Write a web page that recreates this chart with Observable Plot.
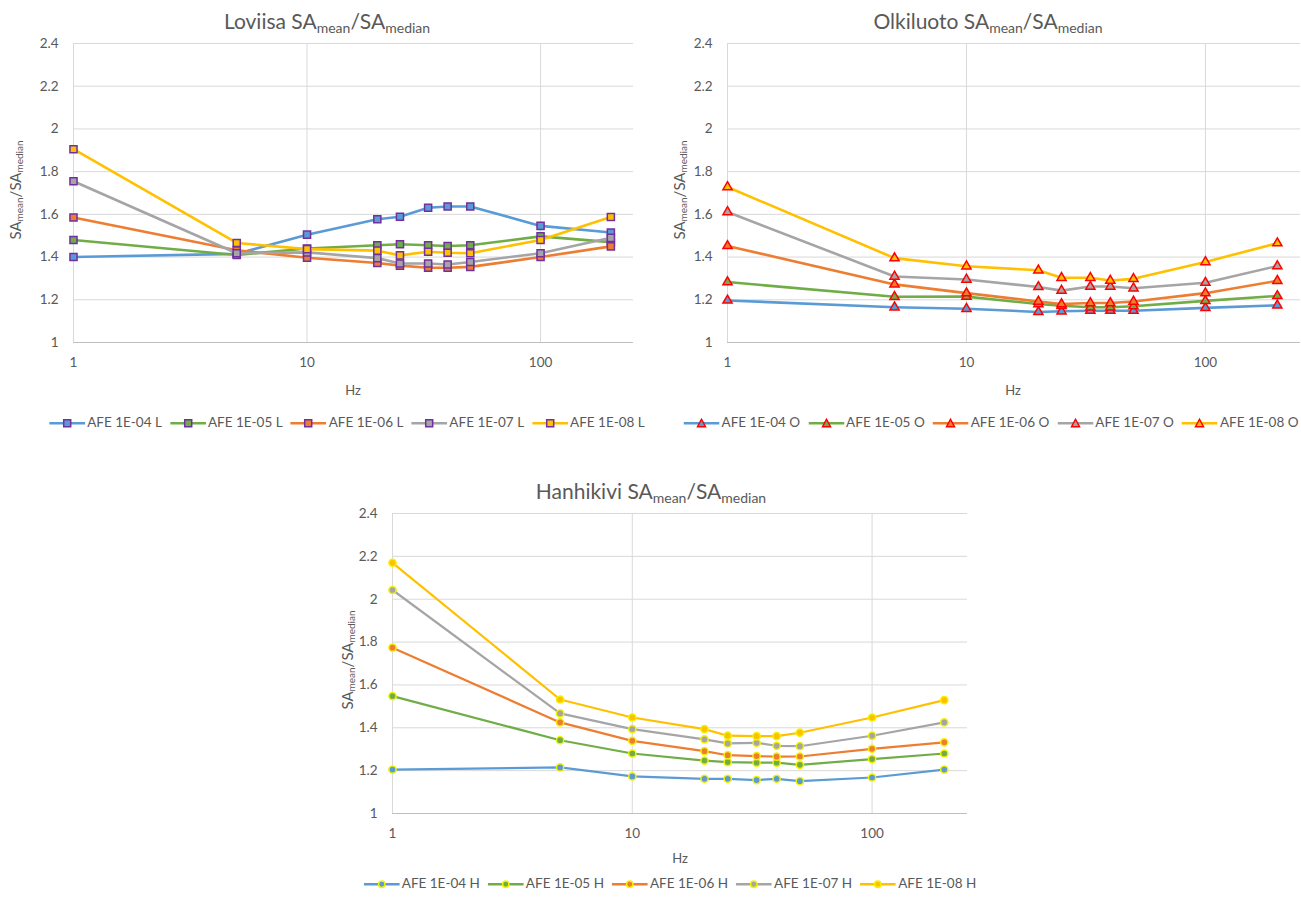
<!DOCTYPE html>
<html><head><meta charset="utf-8">
<script src="https://cdn.jsdelivr.net/npm/d3@7"></script>
<script src="https://cdn.jsdelivr.net/npm/@observablehq/plot@0.6"></script>
<style>
body{margin:0;background:#fff;}
#root{position:relative;width:1301px;height:904px;font-family:Lato,"Open Sans",sans-serif;color:#595959;overflow:hidden;background:#fff}
.title{position:absolute;font-size:21px;white-space:nowrap;transform:translateX(-50%);line-height:1}
.title sub{font-size:14px;vertical-align:baseline;position:relative;top:4px}
.ylab{position:absolute;font-size:15px;white-space:nowrap;transform:translate(-50%,-50%) rotate(-90deg);line-height:1}
.ylab sub{font-size:10px;vertical-align:baseline;position:relative;top:2px}
.xlab{position:absolute;font-size:13px;transform:translate(-50%,-50%);line-height:1}
.legend{position:absolute;display:flex;align-items:center;transform:translate(-50%,-50%);font-size:13.5px;white-space:nowrap;line-height:1}
.item{display:flex;align-items:center;margin:0 4px}
.item svg{margin-right:2px}
.plot{position:absolute}
</style></head>
<body><div id="root"></div>
<script>
// ---- data ----
const freqs = [1, 5, 10, 20, 25, 33, 40, 50, 100, 200];
const aeLevels = ["AFE 1E-04", "AFE 1E-05", "AFE 1E-06", "AFE 1E-07", "AFE 1E-08"];
const seriesColors = ["#5B9BD5", "#70AD47", "#ED7D31", "#A5A5A5", "#FFC000"];
const yTicks = [1, 1.2, 1.4, 1.6, 1.8, 2, 2.2, 2.4];
const xTicks = [1, 10, 100];

const loviisa_1e04 = [1.40, 1.415, 1.505, 1.577, 1.589, 1.631, 1.637, 1.637, 1.546, 1.515];
const loviisa_1e05 = [1.48, 1.41, 1.44, 1.455, 1.46, 1.455, 1.452, 1.455, 1.497, 1.47];
const loviisa_1e06 = [1.585, 1.432, 1.397, 1.372, 1.36, 1.35, 1.35, 1.354, 1.40, 1.45];
const loviisa_1e07 = [1.755, 1.418, 1.422, 1.395, 1.37, 1.37, 1.365, 1.377, 1.418, 1.49];
const loviisa_1e08 = [1.905, 1.466, 1.437, 1.43, 1.408, 1.425, 1.42, 1.418, 1.48, 1.588];

const olkiluoto_1e04 = [1.197, 1.165, 1.158, 1.143, 1.146, 1.149, 1.149, 1.149, 1.162, 1.174];
const olkiluoto_1e05 = [1.283, 1.214, 1.215, 1.18, 1.172, 1.165, 1.165, 1.17, 1.195, 1.218];
const olkiluoto_1e06 = [1.452, 1.272, 1.231, 1.192, 1.18, 1.185, 1.185, 1.192, 1.231, 1.289];
const olkiluoto_1e07 = [1.611, 1.309, 1.295, 1.26, 1.243, 1.262, 1.262, 1.254, 1.28, 1.358];
const olkiluoto_1e08 = [1.728, 1.395, 1.357, 1.338, 1.303, 1.303, 1.29, 1.298, 1.377, 1.465];

const hanhikivi_1e04 = [1.205, 1.215, 1.173, 1.162, 1.162, 1.156, 1.162, 1.151, 1.168, 1.205];
const hanhikivi_1e05 = [1.548, 1.342, 1.28, 1.247, 1.24, 1.237, 1.237, 1.227, 1.254, 1.28];
const hanhikivi_1e06 = [1.774, 1.425, 1.339, 1.291, 1.272, 1.268, 1.265, 1.266, 1.302, 1.332];
const hanhikivi_1e07 = [2.043, 1.467, 1.394, 1.346, 1.327, 1.33, 1.316, 1.314, 1.363, 1.425];
const hanhikivi_1e08 = [2.17, 1.532, 1.448, 1.394, 1.363, 1.361, 1.361, 1.377, 1.448, 1.529];

// ---- layout / drawing ----
const root = document.getElementById("root");
const SUBLBL = 'SA<sub>mean</sub>/SA<sub>median</sub>';

function addDiv(cls, html, left, top) {
  const d = document.createElement("div");
  d.className = cls; d.innerHTML = html;
  d.style.left = left + "px"; d.style.top = top + "px";
  root.appendChild(d); return d;
}

function markerSvg(symbol, color, border) {
  let m = "";
  if (symbol === "square") m = `<rect x="14.5" y="2.5" width="7" height="7" fill="${color}" stroke="${border}" stroke-width="1.5"/>`;
  else if (symbol === "triangle") m = `<path d="M18,2 L22,9.5 L14,9.5 Z" fill="${color}" stroke="${border}" stroke-width="1.5"/>`;
  else m = `<circle cx="18" cy="6" r="3.2" fill="${color}" stroke="${border}" stroke-width="1.5"/>`;
  return `<svg width="36" height="12"><line x1="0" y1="6" x2="36" y2="6" stroke="${color}" stroke-width="2.5"/>${m}</svg>`;
}

function panel(cfg) {
  const marks = [
    Plot.gridY(yTicks.slice(1), {stroke: "#d9d9d9", strokeOpacity: 1, strokeWidth: 1}),
    Plot.gridX(xTicks, {stroke: "#d9d9d9", strokeOpacity: 1, strokeWidth: 1}),
    Plot.ruleY([1], {stroke: "#bfbfbf", strokeWidth: 1}),
    Plot.axisX({ticks: xTicks, tickSize: 0, tickPadding: 15, tickFormat: d => String(d), label: null}),
    Plot.axisY({ticks: yTicks, tickSize: 0, tickPadding: 15, tickFormat: d => String(+d.toFixed(1)), label: null})
  ];
  cfg.series.forEach((vals, i) => {
    const rows = freqs.map((f, j) => ({f, v: vals[j]}));
    marks.push(Plot.line(rows, {x: "f", y: "v", stroke: seriesColors[i], strokeWidth: cfg.lw}));
    marks.push(Plot.dot(rows, {x: "f", y: "v", symbol: cfg.symbol, r: cfg.r, fill: seriesColors[i], stroke: cfg.border, strokeWidth: 1.5}));
  });
  const svg = Plot.plot({
    width: cfg.w, height: cfg.h,
    marginLeft: cfg.ml, marginRight: cfg.mr, marginTop: cfg.mt, marginBottom: cfg.mb,
    x: {type: "log", domain: [1, 250]},
    y: {domain: [1, 2.4]},
    style: {fontFamily: "Lato, 'Open Sans', sans-serif", fontSize: "13.5px", color: "#595959", background: "transparent", overflow: "visible"},
    marks
  });
  svg.classList.add("plot");
  svg.style.left = cfg.left + "px"; svg.style.top = cfg.top + "px";
  root.appendChild(svg);

  addDiv("title", `${cfg.name} ${SUBLBL}`, cfg.titleX, cfg.titleY);
  addDiv("ylab", SUBLBL, cfg.ylabX, cfg.ylabY);
  addDiv("xlab", "Hz", cfg.hzX, cfg.hzY);
  const lg = addDiv("legend", "", cfg.legX, cfg.legY);
  aeLevels.forEach((lvl, i) => {
    const it = document.createElement("div");
    it.className = "item";
    it.innerHTML = markerSvg(cfg.symbol, seriesColors[i], cfg.border) + `<span>${lvl} ${cfg.suffix}</span>`;
    lg.appendChild(it);
  });
}

panel({name: "Loviisa", suffix: "L", series: [loviisa_1e04, loviisa_1e05, loviisa_1e06, loviisa_1e07, loviisa_1e08],
  symbol: "square", r: 4, border: "#7030A0", lw: 2.6,
  left: 0, top: 30, w: 650, h: 345, ml: 73, mr: 17, mt: 13, mb: 33,
  titleX: 327, titleY: 10, ylabX: 15, ylabY: 190, hzX: 353, hzY: 390, legX: 347, legY: 423});

panel({name: "Olkiluoto", suffix: "O", series: [olkiluoto_1e04, olkiluoto_1e05, olkiluoto_1e06, olkiluoto_1e07, olkiluoto_1e08],
  symbol: "triangle", r: 3.4, border: "#FF0000", lw: 2.6,
  left: 650, top: 30, w: 651, h: 345, ml: 77, mr: 1, mt: 13, mb: 33,
  titleX: 988, titleY: 10, ylabX: 679, ylabY: 190, hzX: 1013, hzY: 390, legX: 991, legY: 423});

panel({name: "Hanhikivi", suffix: "H", series: [hanhikivi_1e04, hanhikivi_1e05, hanhikivi_1e06, hanhikivi_1e07, hanhikivi_1e08],
  symbol: "circle", r: 3.6, border: "#F2F200", lw: 2.2,
  left: 320, top: 500, w: 660, h: 345, ml: 72, mr: 13, mt: 13, mb: 32,
  titleX: 651, titleY: 480, ylabX: 347, ylabY: 660, hzX: 680, hzY: 858, legX: 670, legY: 884});
</script>
</body></html>
